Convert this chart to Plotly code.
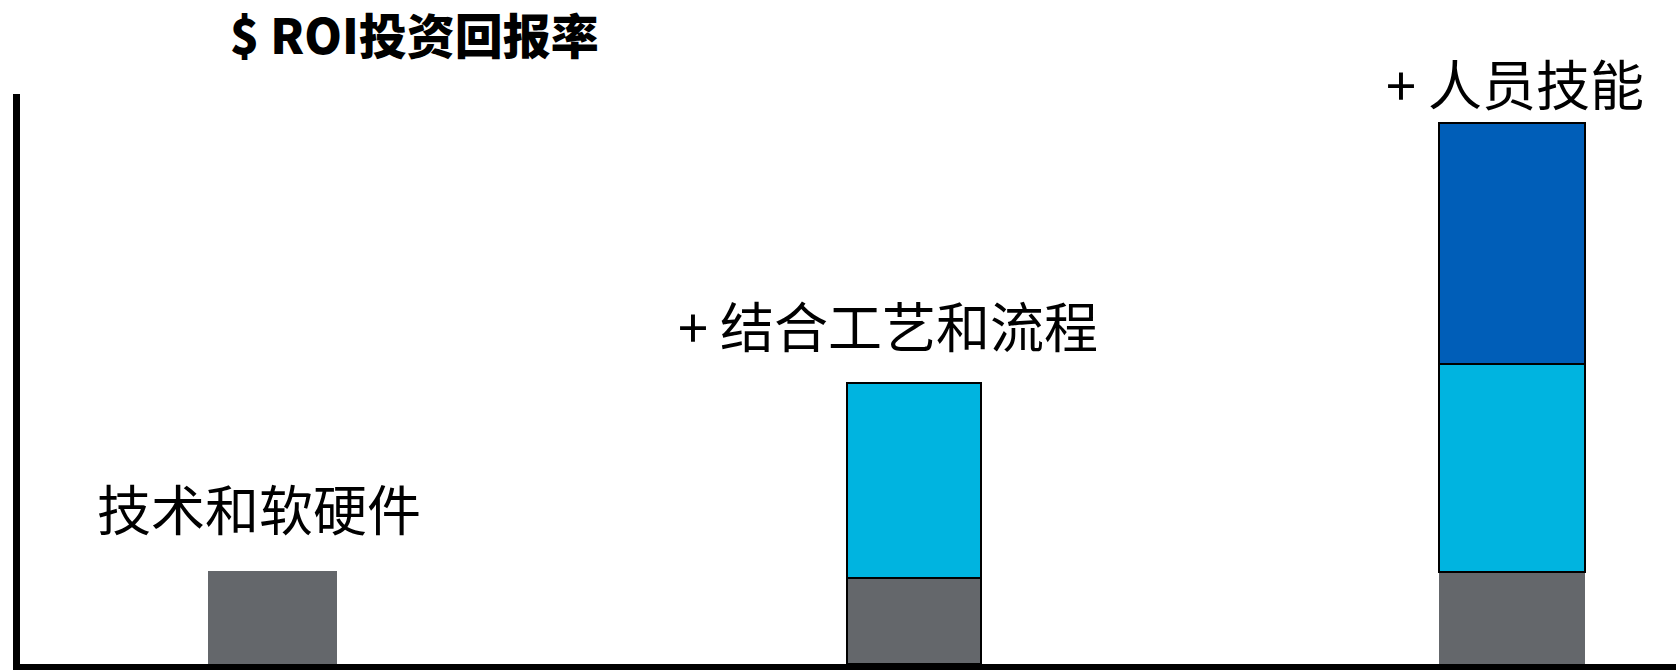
import plotly.graph_objects as go

# ---- data ----
categories = ["技术和软硬件", "结合工艺和流程", "人员技能"]
labels = ["技术和软硬件", "+ 结合工艺和流程", "+ 人员技能"]
tech_values = [16.3, 15.1, 16.1]      # grey: technology / hardware & software
process_values = [0, 34.2, 36.5]      # cyan: process
people_values = [0, 0, 42.3]          # blue: people skills
title_text = "$ ROI投资回报率"

# ---- style ----
GREY = "#64676B"
CYAN = "#00B4E0"
BLUE = "#005EB8"
FONT = "Noto Sans CJK SC, Microsoft YaHei, sans-serif"

bar_widths = [0.2081, 0.2162, 0.2356]
bar_offsets = [-0.1158, -0.0847, -0.1295]

fig = go.Figure()
fig.add_trace(go.Bar(
    x=categories, y=tech_values, width=bar_widths, offset=bar_offsets,
    marker=dict(color=GREY, line=dict(color="black", width=[0, 2, 0])),
    showlegend=False, hoverinfo="skip",
))
fig.add_trace(go.Bar(
    x=categories, y=process_values, width=bar_widths, offset=bar_offsets,
    marker=dict(color=CYAN, line=dict(color="black", width=[0, 2, 2])),
    showlegend=False, hoverinfo="skip",
))
fig.add_trace(go.Bar(
    x=categories, y=people_values, width=bar_widths, offset=bar_offsets,
    marker=dict(color=BLUE, line=dict(color="black", width=[0, 0, 2])),
    showlegend=False, hoverinfo="skip",
))

totals = [a + b + c for a, b, c in zip(tech_values, process_values, people_values)]
label_xshift = [-21, -12, -4]
label_yshift = [64, 58, 41]
for cat, lab, tot, xs, ys in zip(categories, labels, totals, label_xshift, label_yshift):
    fig.add_annotation(
        x=cat, y=tot, text=lab, showarrow=False,
        xanchor="center", yanchor="middle", xshift=xs, yshift=ys,
        font=dict(family=FONT, size=54, color="black"),
    )

fig.update_layout(
    width=1676, height=671,
    margin=dict(l=20, r=0, t=94, b=7),
    paper_bgcolor="white", plot_bgcolor="white",
    barmode="stack",
    title=dict(
        text=title_text, x=230 / 1676, xanchor="left", xref="container",
        y=1 - 37 / 671, yanchor="middle", yref="container",
        font=dict(family=FONT, size=48, color="black", weight=900),
    ),
    xaxis=dict(
        range=[-0.4191, 2.2529], showline=True, linecolor="black", linewidth=6,
        showticklabels=False, ticks="", showgrid=False, zeroline=False,
        fixedrange=True,
    ),
    yaxis=dict(
        range=[0, 100], showline=True, linecolor="black", linewidth=7,
        showticklabels=False, ticks="", showgrid=False, zeroline=False,
        fixedrange=True,
    ),
)

fig.write_html("out.html", config={"displayModeBar": False})
